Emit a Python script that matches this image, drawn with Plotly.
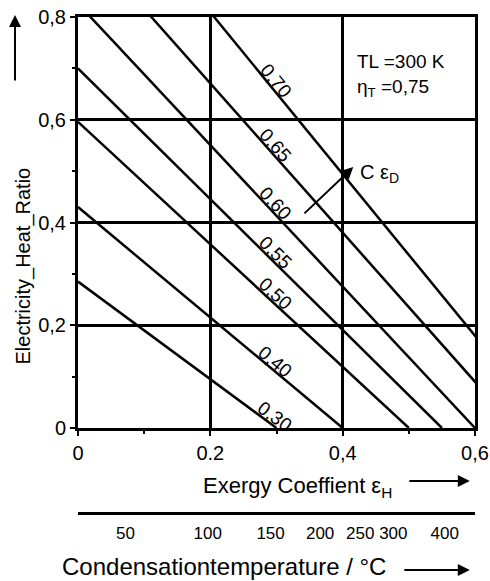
import math
import plotly.graph_objects as go

# ---------------- data ----------------
eps_D_labels = ["0,30", "0,40", "0,50", "0,55", "0,60", "0,65", "0,70"]
sigma_intercept = [0.285, 0.43, 0.596, 0.70, 0.826, 0.961, 1.124]   # Electricity_Heat_Ratio at eps_H = 0
epsH_intercept = [0.30, 0.40, 0.50, 0.55, 0.60, 0.662, 0.714]       # eps_H at ratio = 0

x_tick_vals = [0, 0.2, 0.4, 0.6]
x_tick_text = ["0", "0.2", "0,4", "0,6"]
y_tick_vals = [0, 0.2, 0.4, 0.6, 0.8]
y_tick_text = ["0", "0,2", "0,4", "0,6", "0,8"]

temp_ticks_C = [50, 100, 150, 200, 250, 300, 400]
T_L = 300.0  # K

# ---------------- styling ----------------
NUM = "Liberation Sans, Arial, sans-serif"
SANS = "Liberation Sans, Arial, sans-serif"
W, H = 490, 581
ML, MR, MT, MB = 78, 15, 17, 50
X_RANGE = [0, 0.6]
Y_RANGE = [0, 0.8]
Y_DOMAIN = [0.2004, 1.0]

plot_w = W - ML - MR
plot_h = (H - MT - MB) * (Y_DOMAIN[1] - Y_DOMAIN[0])
px_per_x = plot_w / (X_RANGE[1] - X_RANGE[0])
px_per_y = plot_h / (Y_RANGE[1] - Y_RANGE[0])

fig = go.Figure()

for y0, x0 in zip(sigma_intercept, epsH_intercept):
    fig.add_trace(go.Scatter(x=[0, x0], y=[y0, 0], mode="lines",
                             line=dict(color="black", width=2.5),
                             showlegend=False, hoverinfo="skip"))

# carrier trace for the temperature axis
fig.add_trace(go.Scatter(x=[], y=[], xaxis="x2", yaxis="y", showlegend=False))

temp_pos = [1 - T_L / (t + 273.15) for t in temp_ticks_C]

annotations = []
LABEL_X = 0.29
OFF = 8
for lab, y0, x0 in zip(eps_D_labels, sigma_intercept, epsH_intercept):
    s = (y0 / x0) * px_per_y / px_per_x
    n = math.hypot(1, s)
    ang = math.degrees(math.atan(s))
    annotations.append(dict(x=LABEL_X, y=y0 * (1 - LABEL_X / x0), xref="x", yref="y",
                            text=lab, showarrow=False, textangle=ang,
                            xshift=OFF * s / n, yshift=OFF / n,
                            font=dict(family=NUM, size=19, color="black")))

annotations += [
    dict(x=0.419, y=0.714, xref="x", yref="y", xanchor="left", yanchor="middle",
         text="TL =300 K", showarrow=False, font=dict(family=NUM, size=19, color="black")),
    dict(x=0.419, y=0.662, xref="x", yref="y", xanchor="left", yanchor="middle",
         text="η<sub>T</sub> =0,75", showarrow=False, font=dict(family=NUM, size=19, color="black")),
    dict(x=0.423, y=0.496, xref="x", yref="y", xanchor="left", yanchor="middle",
         text="C ε<sub>D</sub>", showarrow=False, font=dict(family=NUM, size=20, color="black")),
    dict(x=0.416, y=0.508, xref="x", yref="y", ax=0.340, ay=0.415, axref="x", ayref="y",
         text="", showarrow=True, arrowhead=2, arrowsize=1.2, arrowwidth=2, arrowcolor="black"),
    # axis titles
    dict(x=0.554, y=0.0856, xref="paper", yref="paper", xanchor="center", yanchor="middle",
         text="Exergy Coeffient ε<sub>H</sub>", showarrow=False,
         font=dict(family=SANS, size=22, color="black")),
    dict(x=0.987, y=0.0973, xref="paper", yref="paper", ax=-62, ay=0, text="",
         showarrow=True, arrowhead=2, arrowsize=1.2, arrowwidth=2, arrowcolor="black"),
    dict(x=-0.045, y=-0.070, xref="paper", yref="paper", xanchor="left", yanchor="middle",
         text="Condensationtemperature / °C", showarrow=False,
         font=dict(family=SANS, size=24, color="black")),
    dict(x=0.987, y=-0.0759, xref="paper", yref="paper", ax=-67, ay=0, text="",
         showarrow=True, arrowhead=2, arrowsize=1.2, arrowwidth=2, arrowcolor="black"),
    dict(x=-0.1385, y=0.5146, xref="paper", yref="paper", xanchor="center", yanchor="middle",
         text="Electricity_Heat_Ratio", textangle=-90, showarrow=False,
         font=dict(family=SANS, size=20, color="black")),
    dict(x=-0.1587, y=1.004, xref="paper", yref="paper", ax=0, ay=67, text="",
         showarrow=True, arrowhead=2, arrowsize=1.2, arrowwidth=2, arrowcolor="black"),
]

fig.update_layout(
    width=W, height=H,
    margin=dict(l=ML, r=MR, t=MT, b=MB, autoexpand=False),
    paper_bgcolor="white", plot_bgcolor="white",
    showlegend=False,
    xaxis=dict(range=X_RANGE, domain=[0, 1], anchor="y", automargin=False,
               tickmode="array", tickvals=x_tick_vals, ticktext=x_tick_text,
               showgrid=True, gridcolor="black", gridwidth=2.5, zeroline=False,
               showline=True, mirror=True, linecolor="black", linewidth=3,
               ticks="outside", ticklen=5, tickwidth=1.5, tickcolor="black",
               tickfont=dict(family=NUM, size=20, color="black"),
               minor=dict(tickmode="array", tickvals=[0.1, 0.3, 0.5], ticks="outside",
                          ticklen=3, tickcolor="black", showgrid=False)),
    yaxis=dict(range=Y_RANGE, domain=Y_DOMAIN, anchor="x", automargin=False,
               tickmode="array", tickvals=y_tick_vals, ticktext=y_tick_text,
               showgrid=True, gridcolor="black", gridwidth=2.5, zeroline=False,
               showline=True, mirror=True, linecolor="black", linewidth=3,
               ticks="outside", ticklen=5, tickwidth=1.5, tickcolor="black",
               tickfont=dict(family=NUM, size=20, color="black"),
               minor=dict(tickmode="array", tickvals=[0.1, 0.3, 0.5, 0.7], ticks="outside",
                          ticklen=3, tickcolor="black", showgrid=False)),
    xaxis2=dict(range=X_RANGE, overlaying="x", anchor="free", position=0.035, side="bottom",
                automargin=False, tickangle=0,
                tickmode="array", tickvals=temp_pos, ticktext=[str(t) for t in temp_ticks_C],
                showgrid=False, zeroline=False, showline=True, linecolor="black", linewidth=2.5,
                ticks="", ticklabelstandoff=4,
                tickfont=dict(family=NUM, size=17, color="black")),
    annotations=annotations,
)

fig.write_html("out.html",
               config={"displayModeBar": False},
               post_script="document.body.style.margin='0';document.body.style.overflow='hidden';")
